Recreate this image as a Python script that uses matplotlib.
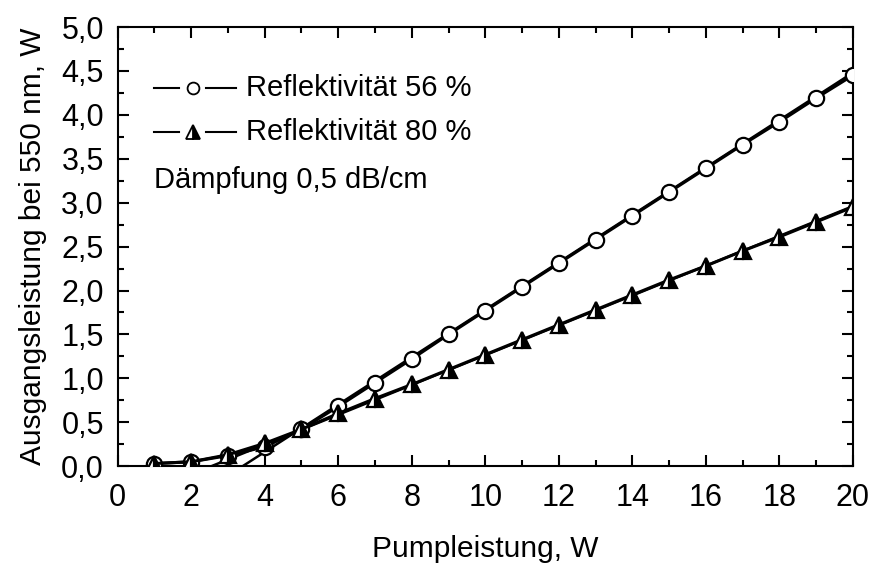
import matplotlib
matplotlib.use("Agg")
import matplotlib.pyplot as plt
from matplotlib.ticker import MultipleLocator, FuncFormatter

# data
pump = [1, 2, 3, 4, 5, 6, 7, 8, 9, 10, 11, 12, 13, 14, 15, 16, 17, 18, 19, 20]
refl56 = [0.03, 0.05, 0.12, 0.22, 0.42, 0.68, 0.95, 1.22, 1.50, 1.77,
          2.04, 2.31, 2.58, 2.85, 3.12, 3.39, 3.66, 3.92, 4.19, 4.45]
refl80 = [0.03, 0.05, 0.13, 0.26, 0.42, 0.60, 0.77, 0.93, 1.10, 1.27,
          1.44, 1.61, 1.78, 1.95, 2.12, 2.28, 2.45, 2.61, 2.78, 2.95]
# linear fits (start, end) of each series
fit56_x = [3.4, 20]
fit56_y = [0.0, 4.48]
fit80_x = [2.55, 20]
fit80_y = [0.0, 2.96]
labels = ['Reflektivität 56 %', 'Reflektivität 80 %']
note = 'Dämpfung 0,5 dB/cm'

plt.rcParams['font.family'] = ['Liberation Sans', 'DejaVu Sans']

fig = plt.figure(figsize=(8.72, 5.63), dpi=100)
ax = fig.add_axes([0.135, 0.172, 0.843, 0.780])

ax.plot(fit56_x, fit56_y, color='black', lw=1.8, zorder=2)
ax.plot(fit80_x, fit80_y, color='black', lw=1.8, zorder=2)
ax.plot(pump, refl56, color='black', lw=2.2, marker='o', ms=11,
        mfc='white', mec='black', mew=1.6, zorder=3)
ax.plot(pump, refl80, color='black', lw=2.2, marker='^', ms=11,
        fillstyle='right', mfc='black', mfcalt='white', mec='black',
        mew=1.6, zorder=4)

ax.set_xlim(0, 20)
ax.set_ylim(0, 5)
ax.xaxis.set_major_locator(MultipleLocator(2))
ax.xaxis.set_minor_locator(MultipleLocator(1))
ax.yaxis.set_major_locator(MultipleLocator(0.5))
ax.yaxis.set_minor_locator(MultipleLocator(0.25))
ax.yaxis.set_major_formatter(FuncFormatter(lambda v, p: f"{v:.1f}".replace('.', ',')))
ax.tick_params(which='both', direction='in', top=True, right=True, width=1.5)
ax.tick_params(which='major', length=8, labelsize=22)
ax.tick_params(axis='x', which='major', pad=12)
ax.tick_params(axis='y', which='major', pad=10)
ax.tick_params(which='minor', length=4)
for s in ax.spines.values():
    s.set_linewidth(1.5)

ax.set_xlabel('Pumpleistung, W', fontsize=21.5, labelpad=16)
ax.set_ylabel('Ausgangsleistung bei 550 nm, W', fontsize=21.5, labelpad=10)

# hand-drawn legend: line - marker - line, then text
rows = [0.861, 0.761]
styles = [dict(marker='o', ms=8.5, mfc='white', mec='black', mew=1.3),
          dict(marker='^', ms=9.5, fillstyle='right', mfc='black',
               mfcalt='white', mec='black', mew=1.3)]
for yy, st, lab in zip(rows, styles, labels):
    ax.plot([0.050, 0.084], [yy, yy], color='black', lw=1.5, transform=ax.transAxes)
    ax.plot([0.120, 0.161], [yy, yy], color='black', lw=1.5, transform=ax.transAxes)
    ax.plot([0.103], [yy], linestyle='none', transform=ax.transAxes, **st)
    ax.text(0.175, yy, lab, transform=ax.transAxes, fontsize=21,
            va='center', ha='left')
ax.text(0.050, 0.651, note, transform=ax.transAxes, fontsize=21,
        va='center', ha='left')

fig.savefig('out.png', dpi=100)
